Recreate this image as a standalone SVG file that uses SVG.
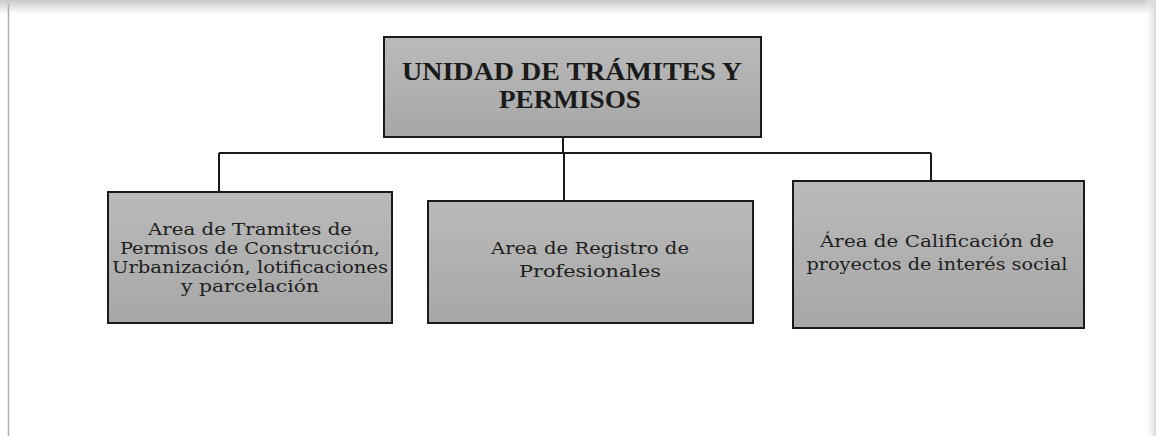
<svg xmlns="http://www.w3.org/2000/svg" width="1156" height="436" viewBox="0 0 1156 436">
<defs>
<linearGradient id="g" x1="0" y1="0" x2="0" y2="1">
<stop offset="0" stop-color="#bababa"/>
<stop offset="1" stop-color="#a7a7a7"/>
</linearGradient>
<linearGradient id="topband" x1="0" y1="0" x2="0" y2="1">
<stop offset="0" stop-color="#c8c8c8"/>
<stop offset="1" stop-color="#ffffff"/>
</linearGradient>
<linearGradient id="rightband" x1="0" y1="0" x2="1" y2="0">
<stop offset="0" stop-color="#ffffff" stop-opacity="0"/>
<stop offset="1" stop-color="#d8d8d8"/>
</linearGradient>
<style>
.box{fill:url(#g);stroke:#1a1a1a;stroke-width:2}
.t{font-family:"DejaVu Serif","Liberation Serif",serif;font-size:17px;fill:#1e1e1e;text-anchor:middle}
.h{font-family:"Liberation Serif","DejaVu Serif",serif;font-size:26px;font-weight:bold;fill:#1a1a1a;text-anchor:middle}
.c{stroke:#1a1a1a;stroke-width:2;fill:none}
</style>
</defs>
<rect x="0" y="0" width="1156" height="436" fill="#ffffff"/>
<rect x="0" y="0" width="1156" height="14" fill="url(#topband)"/>
<rect x="1144" y="0" width="12" height="436" fill="url(#rightband)"/>
<line x1="8.5" y1="4" x2="8.5" y2="436" stroke="#b0b0b0" stroke-width="1.5"/>
<g id="connectors">
<path class="c" d="M563,137 V153"/>
<path class="c" d="M219,153 H931"/>
<path class="c" d="M219,153 V192"/>
<path class="c" d="M564,153 V201"/>
<path class="c" d="M931,153 V181"/>
</g>
<g id="n0">
<rect class="box" x="384" y="37" width="377" height="100"/>
<text class="h" x="572" y="80" textLength="340" lengthAdjust="spacingAndGlyphs">UNIDAD DE TRÁMITES Y</text>
<text class="h" x="570" y="108" textLength="142" lengthAdjust="spacingAndGlyphs">PERMISOS</text>
</g>
<g id="n1">
<rect class="box" x="108" y="192" width="284" height="131"/>
<text class="t" x="250" y="235" textLength="204" lengthAdjust="spacingAndGlyphs">Area de Tramites de</text>
<text class="t" x="250" y="254" textLength="260" lengthAdjust="spacingAndGlyphs">Permisos de Construcción,</text>
<text class="t" x="250" y="273" textLength="276" lengthAdjust="spacingAndGlyphs">Urbanización, lotificaciones</text>
<text class="t" x="250" y="292" textLength="138" lengthAdjust="spacingAndGlyphs">y parcelación</text>
</g>
<g id="n2">
<rect class="box" x="428" y="201" width="325" height="122"/>
<text class="t" x="590" y="254" textLength="198" lengthAdjust="spacingAndGlyphs">Area de Registro de</text>
<text class="t" x="590" y="277" textLength="142" lengthAdjust="spacingAndGlyphs">Profesionales</text>
</g>
<g id="n3">
<rect class="box" x="793" y="181" width="291" height="147"/>
<text class="t" x="937" y="247" textLength="234" lengthAdjust="spacingAndGlyphs">Área de Calificación de</text>
<text class="t" x="937" y="270" textLength="261" lengthAdjust="spacingAndGlyphs">proyectos de interés social</text>
</g>
</svg>
